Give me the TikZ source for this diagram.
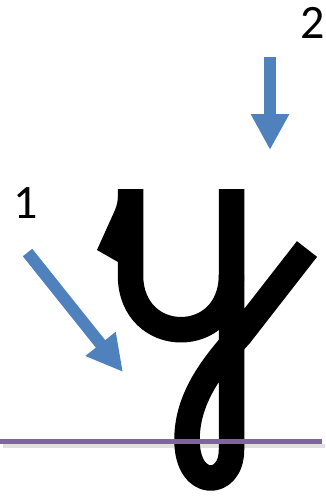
\documentclass[tikz,border=0pt]{standalone}
\usepackage{fontspec}
\setmainfont{Carlito}
\usetikzlibrary{arrows.meta}
\definecolor{arrowblue}{HTML}{4F81BD}
\definecolor{basepurple}{HTML}{8064A2}
\begin{document}
\begin{tikzpicture}[x=1pt,y=-1pt,
  pen/.style={line width=25.5pt, line cap=butt, line join=round},
  pointer/.style={arrowblue, line width=12pt, -{Triangle[width=36pt,length=36pt]}},
  digit/.style={font=\fontsize{48}{48}\selectfont, inner sep=0pt}]
\useasboundingbox (0,0) rectangle (326,496);
% letter
\fill (118,189) .. controls (118.5,200) and (117,205) .. (115,210) -- (97,250) -- (118,262) -- (131,262) -- (131,189) -- cycle;
\draw[pen] (130.5,189) -- (130.5,275) .. controls (130.5,348) and (231.5,348) .. (231.5,275);
\draw[pen] (231.5,189) -- (231.5,450) .. controls (231.5,488) and (187,490) .. (187,440) .. controls (187,400) and (210,368) .. (240,335) -- (307,249);
% base line with shadow
\draw[line width=4pt, black, opacity=0.12] (3,445.5) -- (325,445.5);
\draw[line width=5pt, basepurple] (0,441.5) -- (322,441.5);
% labels
\node[digit] (one) at (25.5,203) {1};
\node[digit] (two) at (313,22.5) {2};
% arrows
\coordinate (a1s) at (27.5,252.5);
\coordinate (a1e) at (123,372);
\coordinate (a2s) at (270,57);
\coordinate (a2e) at (270,150);
\draw[pointer] (a1s) -- (a1e);
\draw[pointer] (a2s) -- (a2e);
\end{tikzpicture}
\end{document}
